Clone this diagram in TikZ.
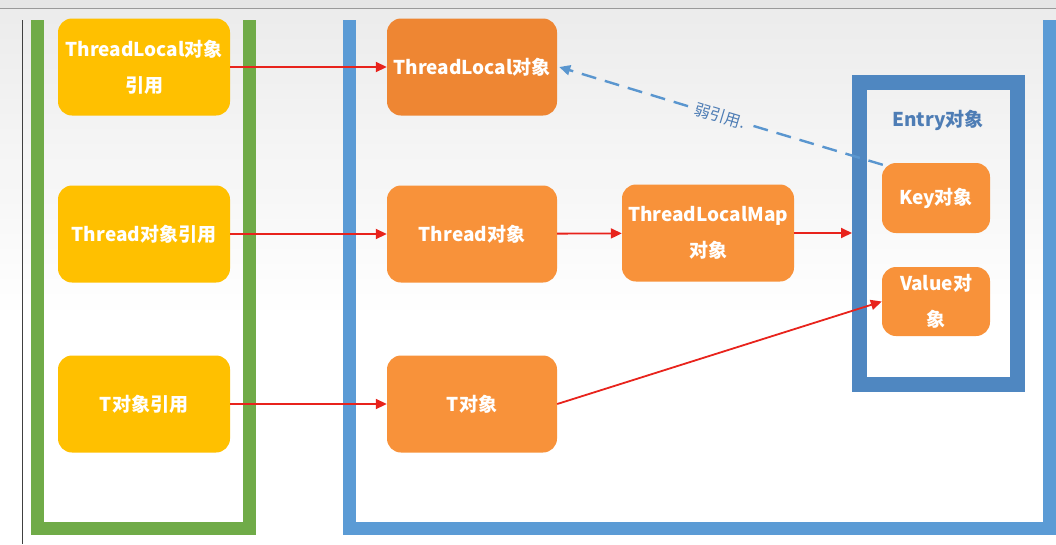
\documentclass[tikz,border=0pt]{standalone}
\usepackage{fontspec}
\setmainfont{Noto Sans CJK SC}
\usetikzlibrary{arrows.meta}
\definecolor{topbar}{HTML}{E6E6E6}
\definecolor{topline}{HTML}{9A9A9A}
\definecolor{bgtop}{HTML}{ECECEC}
\definecolor{frgreen}{HTML}{70AB48}
\definecolor{frblue}{HTML}{5B9BD5}
\definecolor{entryblue}{HTML}{4F87C1}
\definecolor{refyellow}{HTML}{FFC000}
\definecolor{objorange}{HTML}{F8923A}
\definecolor{objdark}{HTML}{EE8633}
\definecolor{arrred}{HTML}{E8231C}
\definecolor{weakblue}{HTML}{5A96CF}
\definecolor{labelblue}{HTML}{4E7DB5}
\begin{document}
\begin{tikzpicture}[x=1pt,y=-1pt,
  box/.style={rounded corners=14pt, text=white, align=center, inner sep=0pt,
    font=\bfseries\fontsize{19}{36}\selectfont,
    minimum width=172pt, minimum height=97pt},
  refbox/.style={box, fill=refyellow},
  objbox/.style={box, fill=objorange},
  smallbox/.style={box, fill=objorange, minimum width=108pt, minimum height=70pt},
  frame/.style={draw=#1, line width=13pt, inner sep=0pt},
  refarrow/.style={draw=arrred, line width=1.8pt, -{Triangle[length=11pt,width=10pt]}},
  weakline/.style={draw=weakblue, line width=2.4pt, dash pattern=on 15pt off 9pt},
]
\useasboundingbox (0,0) rectangle (1056,544);
% background: light grey at the top fading to white
\fill[white] (0,0) rectangle (1056,544);
\foreach \k in {0,...,19} {
  \pgfmathsetmacro{\mix}{100-5*\k}
  \fill[bgtop!\mix!white] (0,{9+15*\k}) rectangle (1056,{9+15*(\k+1)+0.5});
}
\fill[topbar] (0,0) rectangle (1056,8);
\draw[topline, line width=1.2pt] (0,8.5) -- (1056,8.5);
\draw[black!75, line width=1.3pt] (22.5,20) -- (22.5,544);

% container frames (clipped at the top)
\begin{scope}
  \clip (0,20) rectangle (1056,544);
  \node[frame=frgreen, minimum width=212pt, minimum height=628pt] (stack) at (143.5,214) {};
  \node[frame=frblue, minimum width=700pt, minimum height=628pt] (heap) at (699.5,214) {};
\end{scope}

% reference boxes
\node[refbox] (yl1) at (144,67) {ThreadLocal对象\\引用};
\node[refbox] (yl2) at (144,234) {Thread对象引用};
\node[refbox] (yl3) at (144,404) {T对象引用};

% objects
\node[objbox, fill=objdark, minimum width=170pt] (tlo) at (472,67) {ThreadLocal对象};
\node[objbox, minimum width=170pt] (thr) at (472,234) {Thread对象};
\node[objbox, minimum width=170pt] (tob) at (472,404) {T对象};
\node[objbox] (tlm) at (708,233) {ThreadLocalMap\\对象};

% entry
\node[draw=entryblue, line width=15pt, inner sep=0pt, minimum width=158pt, minimum height=302pt] (entry) at (938.5,233) {};
\node[text=labelblue, font=\bfseries\fontsize{19}{20}\selectfont] (entrylbl) at (938,120) {Entry对象};
\node[smallbox] (key) at (936,198) {Key对象};
\node[smallbox, minimum height=69pt] (val) at (936,301.5) {Value对\\象};

% arrows
\draw[refarrow] (yl1) -- (tlo);
\draw[refarrow] (yl2) -- (thr);
\draw[refarrow] (yl3) -- (tob);
\draw[refarrow] (thr) -- (tlm);
\draw[refarrow] (tlm) -- (entry.west);
\draw[refarrow] (tob.east) -- (val.west);

% weak reference
\coordinate (keycorner) at ([xshift=1pt,yshift=-2pt]key.north west);
\path (tlo.east) -- node[sloped, pos=0.5, text=labelblue, inner xsep=7pt, inner ysep=1pt,
  font=\fontsize{16}{18}\selectfont] (weaklbl) {弱引用.} (keycorner);
\draw[weakline] (keycorner) -- (weaklbl);
\draw[weakline, -{Triangle[length=11pt,width=10pt]}] (weaklbl) -- ([xshift=2pt]tlo.east);
\end{tikzpicture}
\end{document}
